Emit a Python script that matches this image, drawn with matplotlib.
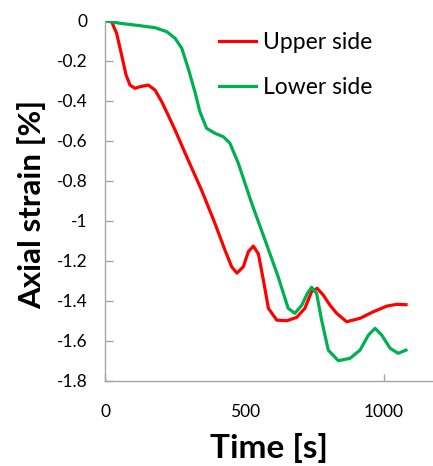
import numpy as np
from matplotlib import pyplot as plt

# values
upper_time = [0, 22, 40, 58, 74, 88, 106, 124, 154, 178, 202, 225, 250, 297, 345, 393,
              429, 453, 472, 495, 513, 531, 549, 567, 585, 615, 651, 687, 716, 740, 760,
              782, 806, 830, 866, 914, 962, 1010, 1046, 1079]
upper_strain = [0, -0.005, -0.063, -0.172, -0.272, -0.322, -0.338, -0.33, -0.322, -0.347,
                -0.405, -0.472, -0.547, -0.697, -0.847, -1.013, -1.147, -1.23, -1.262,
                -1.23, -1.155, -1.127, -1.166, -1.297, -1.438, -1.497, -1.5, -1.483,
                -1.438, -1.355, -1.338, -1.372, -1.422, -1.463, -1.505, -1.488, -1.455,
                -1.427, -1.418, -1.42]

lower_time = [0, 52, 124, 178, 220, 250, 274, 297, 321, 339, 363, 393, 423, 447, 477,
              525, 573, 620, 656, 680, 705, 725, 740, 758, 776, 800, 836, 878, 914, 944,
              968, 992, 1022, 1051, 1079]
lower_strain = [0, -0.013, -0.025, -0.035, -0.055, -0.088, -0.138, -0.238, -0.355, -0.455,
                -0.538, -0.563, -0.58, -0.613, -0.713, -0.913, -1.097, -1.28, -1.438,
                -1.463, -1.422, -1.363, -1.333, -1.363, -1.497, -1.647, -1.70, -1.688,
                -1.647, -1.572, -1.538, -1.572, -1.638, -1.663, -1.647]

x_ticks = [0, 500, 1000]
y_ticks = np.round(np.arange(0, -1.81, -0.2), 1)
y_tick_labels = ["0"] + [f"{v:g}" for v in y_ticks[1:]]

plt.rcParams["font.family"] = ["Lato", "DejaVu Sans"]

fig = plt.figure(figsize=(4.33, 4.66), dpi=100)
ax = fig.add_axes([0.2436, 0.183, 0.7564, 0.7726])

ax.plot(upper_time, upper_strain, color="#ff0000", lw=2.3, label="Upper side",
        solid_joinstyle="round")
ax.plot(lower_time, lower_strain, color="#00b050", lw=2.3, label="Lower side",
        solid_joinstyle="round")

ax.set_xlim(0, 1176)
ax.set_ylim(-1.8, 0)
ax.set_xticks(x_ticks)
ax.set_yticks(y_ticks)
ax.set_yticklabels(y_tick_labels)

for side in ("top", "right"):
    ax.spines[side].set_visible(False)
for side in ("left", "bottom"):
    ax.spines[side].set_color("#a6a6a6")
    ax.spines[side].set_linewidth(1.0)

ax.tick_params(axis="y", direction="in", length=6, width=1, color="#a6a6a6",
               labelsize=12.5, pad=13)
ax.tick_params(axis="x", direction="in", length=5, width=1, color="#a6a6a6",
               labelsize=12.5, pad=17)
ax.xaxis.get_major_ticks()[1].tick1line.set_visible(False)

ax.set_xlabel("Time [s]", fontsize=24, fontweight="bold")
ax.set_ylabel("Axial strain [%]", fontsize=22.5, fontweight="bold")
ax.xaxis.set_label_coords(0.50, -0.145)
ax.yaxis.set_label_coords(-0.18, 0.49)

ax.legend(loc="upper left", bbox_to_anchor=(0.285, 1.025), frameon=False, fontsize=16.5,
          handlelength=1.6, handletextpad=0.3, labelspacing=1.05)

fig.savefig("out.png", dpi=100)
